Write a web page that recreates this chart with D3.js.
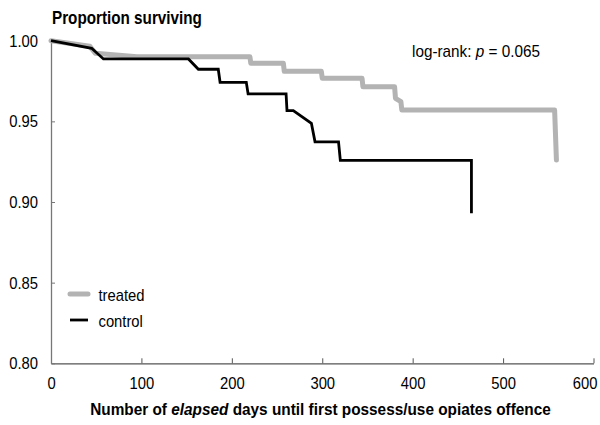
<!DOCTYPE html>
<html><head><meta charset="utf-8">
<script src="https://cdn.jsdelivr.net/npm/d3@7/dist/d3.min.js"></script>
<style>body{margin:0;background:#fff}</style>
</head><body>
<svg id="c" width="600" height="425"></svg>
<script>
// ---- data ----
const treatedDays = [0, 43, 49, 95, 220, 221, 257, 258, 299, 300, 344, 345, 380, 381, 387, 388, 557, 559];
const treatedProp = [1.000, 0.9965, 0.9922, 0.9900, 0.9900, 0.9860, 0.9860, 0.9810, 0.9810, 0.9767, 0.9767, 0.9715, 0.9715, 0.9643, 0.9622, 0.9570, 0.9570, 0.9260];
const controlDays = [0, 45, 58, 152, 163, 185, 187, 216, 218, 260, 261, 268, 288, 292, 318, 320, 465, 465];
const controlProp = [1.000, 0.9953, 0.9887, 0.9887, 0.9823, 0.9823, 0.9742, 0.9742, 0.9670, 0.9670, 0.9567, 0.9567, 0.9488, 0.9373, 0.9373, 0.9258, 0.9258, 0.8930];
const xTicks = [0, 100, 200, 300, 400, 500, 600];
const yTicks = [0.80, 0.85, 0.90, 0.95, 1.00];
const seriesNames = ["treated", "control"];
const titleText = "Proportion surviving";
const annotation = "log-rank: ";

const FONT = "'Liberation Sans',Arial,sans-serif";
const svg = d3.select("#c").style("font-family", FONT);

// horizontally condense a text around its anchor x
function squeeze(node, k) {
  const ax = +node.getAttribute("x") || 0;
  node.setAttribute("transform", `translate(${ax},0) scale(${k},1) translate(${-ax},0)`);
}
function fitWidth(node, w) {
  const cw = node.getComputedTextLength();
  squeeze(node, w / cw);
}

const x = d3.scaleLinear().domain([0, 600]).range([51, 593.5]);
const y = d3.scaleLinear().domain([0.80, 1.00]).range([363.3, 40.7]);

// axes
const xAxis = svg.append("g").attr("transform", `translate(0,${y(0.80)})`)
  .call(d3.axisBottom(x).tickValues(xTicks).tickSizeInner(-5).tickSizeOuter(0).tickPadding(14).tickFormat(d3.format("d")));
xAxis.select(".domain").attr("stroke", "#555").attr("stroke-width", 1.3);
xAxis.selectAll(".tick line").attr("stroke", "#555");
xAxis.selectAll("text").attr("font-size", 17).attr("fill", "#000").attr("font-family", FONT)
  .each(function(d){
    if (d === xTicks[xTicks.length - 1]) d3.select(this).attr("text-anchor", "end").attr("x", 3.5);
    squeeze(this, 0.87);
  });

const yAxis = svg.append("g").attr("transform", `translate(${x(0)},0)`)
  .call(d3.axisLeft(y).tickValues(yTicks).tickSizeInner(-4).tickSizeOuter(0).tickPadding(13).tickFormat(d3.format(".2f")));
yAxis.select(".domain").attr("stroke", "#777").attr("stroke-width", 1.3);
yAxis.selectAll(".tick line").attr("stroke", "#777");
yAxis.selectAll("text").attr("font-size", 17).attr("fill", "#000").attr("font-family", FONT).each(function(){ squeeze(this, 0.87); });

// lines
const line = d3.line().x(d => x(d[0])).y(d => y(d[1]));
const treated = treatedDays.map((d, i) => [d, treatedProp[i]]);
const control = controlDays.map((d, i) => [d, controlProp[i]]);
svg.append("path").datum(treated).attr("d", line).attr("fill", "none")
  .attr("stroke", "#b3b3b3").attr("stroke-width", 5).attr("stroke-linejoin", "round").attr("stroke-linecap", "round");
svg.append("path").datum(control).attr("d", line).attr("fill", "none")
  .attr("stroke", "#000").attr("stroke-width", 2.8).attr("stroke-linejoin", "miter").attr("stroke-linecap", "butt");

// title
const tt = svg.append("text").attr("x", 52).attr("y", 24).attr("font-size", 18).attr("font-weight", "bold").text(titleText);
fitWidth(tt.node(), 150);

// annotation
const ann = svg.append("text").attr("x", 412).attr("y", 57).attr("font-size", 17);
ann.append("tspan").text(annotation);
ann.append("tspan").attr("font-style", "italic").text("p");
ann.append("tspan").text(" = 0.065");
fitWidth(ann.node(), 128);

// x label
const xl = svg.append("text").attr("x", 320.5).attr("y", 415).attr("text-anchor", "middle").attr("font-size", 17).attr("font-weight", "bold");
xl.append("tspan").text("Number of ");
xl.append("tspan").attr("font-style", "italic").text("elapsed");
xl.append("tspan").text(" days until first possess/use opiates offence");
fitWidth(xl.node(), 461);

// legend
const leg = svg.append("g");
const legColors = ["#b3b3b3", "#000"], legW = [5, 2.8], legY = [294, 320];
seriesNames.forEach((n, i) => {
  leg.append("line").attr("x1", 70).attr("x2", 88).attr("y1", legY[i]).attr("y2", legY[i])
    .attr("stroke", legColors[i]).attr("stroke-width", legW[i]).attr("stroke-linecap", i === 0 ? "round" : "butt");
  const t = leg.append("text").attr("x", 98.5).attr("y", legY[i] + 7.5).attr("font-size", 17).text(n);
  squeeze(t.node(), 0.87);
});
</script>
</body></html>
